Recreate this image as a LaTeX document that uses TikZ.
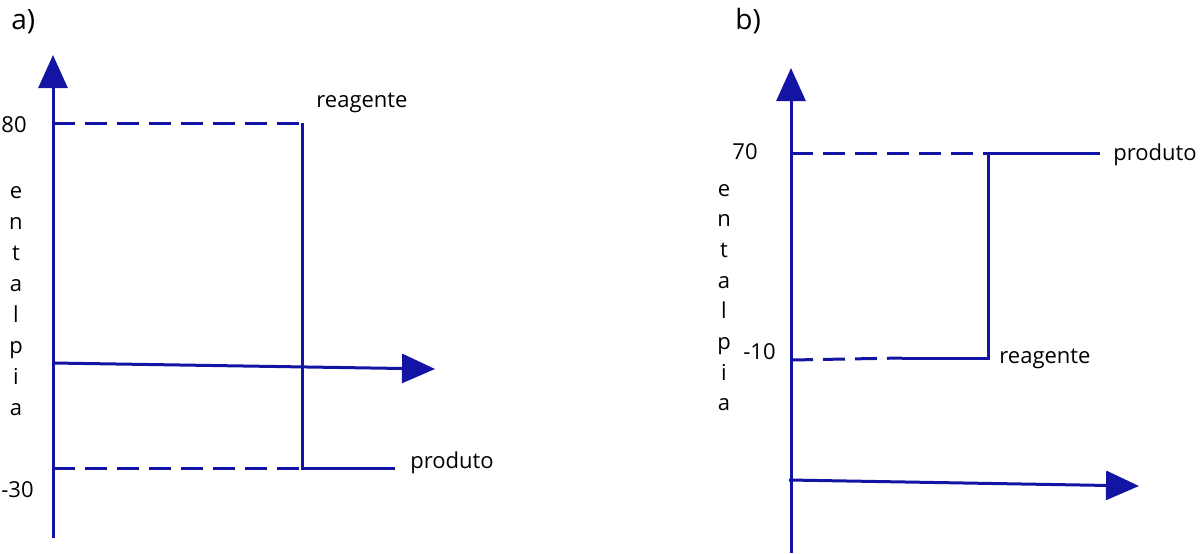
\documentclass[tikz,border=0pt]{standalone}
\usepackage{fontspec}
\setmainfont{Open Sans}
\usetikzlibrary{arrows.meta}
\definecolor{diagblue}{RGB}{20,20,164}

\begin{document}
\begin{tikzpicture}[x=0.5pt,y=-0.5pt,
  axis/.style={draw=diagblue, line width=1.5pt, -{Triangle[length=16.5pt,width=14.5pt]}},
  level/.style={draw=diagblue, line width=1.5pt},
  guide/.style={draw=diagblue, line width=1.5pt, dash pattern=on 11pt off 5pt},
  lbl/.style={inner sep=0pt, font=\fontsize{11}{13}\selectfont},
  tit/.style={inner sep=0pt, font=\fontsize{14}{16}\selectfont}]
  \useasboundingbox (0,0) rectangle (1200,553);

  % a)
  \node[tit, anchor=base west] (tita) at (11,29) {a)};
  \coordinate (a0) at (53,538);
  \coordinate (ay) at (53,55);
  \coordinate (ax0) at (53,363);
  \coordinate (ax) at (435,369);
  \coordinate (ar0) at (53,123);
  \coordinate (ar1) at (302,123);
  \coordinate (ap0) at (53,468);
  \coordinate (ap1) at (302,468);
  \coordinate (ap2) at (395,468);
  \draw[axis] (a0) -- (ay);
  \draw[axis] (ax0) -- (ax);
  \draw[guide] (ar0) -- (ar1);
  \draw[guide] (ap0) -- (ap1);
  \draw[level] (ar1) -- (ap1) -- (ap2);
  \node[lbl, anchor=east] (va80) at (27,125) {80};
  \node[lbl, anchor=east] (vam30) at (34,490) {-30};
  \node[lbl, anchor=base west] (areag) at (316,107) {reagente};
  \node[lbl, anchor=base west] (aprod) at (410,468) {produto};
  \foreach \c [count=\i from 0] in {e,n,t,a,l,p,i,a}
    \node[lbl, anchor=base] (enta\i) at (16,198+31.1*\i) {\c};

  % b)
  \node[tit, anchor=base west] (titb) at (735,29) {b)};
  \coordinate (b0) at (791,553);
  \coordinate (by) at (791,68);
  \coordinate (bx0) at (789,480);
  \coordinate (bx) at (1139,486);
  \coordinate (bp0) at (791,153);
  \coordinate (bp1) at (988,153);
  \coordinate (bp2) at (1100,153);
  \coordinate (br0) at (791,360);
  \coordinate (brm) at (902,358);
  \coordinate (br1) at (988,358);
  \draw[axis] (b0) -- (by);
  \draw[axis] (bx0) -- (bx);
  \draw[guide] (bp0) -- (bp1);
  \draw[guide] (br0) -- (brm);
  \draw[level] (bp2) -- (bp1) -- (br1) -- (brm);
  \node[lbl, anchor=east] (vb70) at (758,152) {70};
  \node[lbl, anchor=east] (vbm10) at (776,352) {-10};
  \node[lbl, anchor=base west] (bprod) at (1113,160) {produto};
  \node[lbl, anchor=base west] (breag) at (999,363) {reagente};
  \foreach \c [count=\i from 0] in {e,n,t,a,l,p,i,a}
    \node[lbl, anchor=base] (entb\i) at (724,196+30.7*\i) {\c};
\end{tikzpicture}
\end{document}
